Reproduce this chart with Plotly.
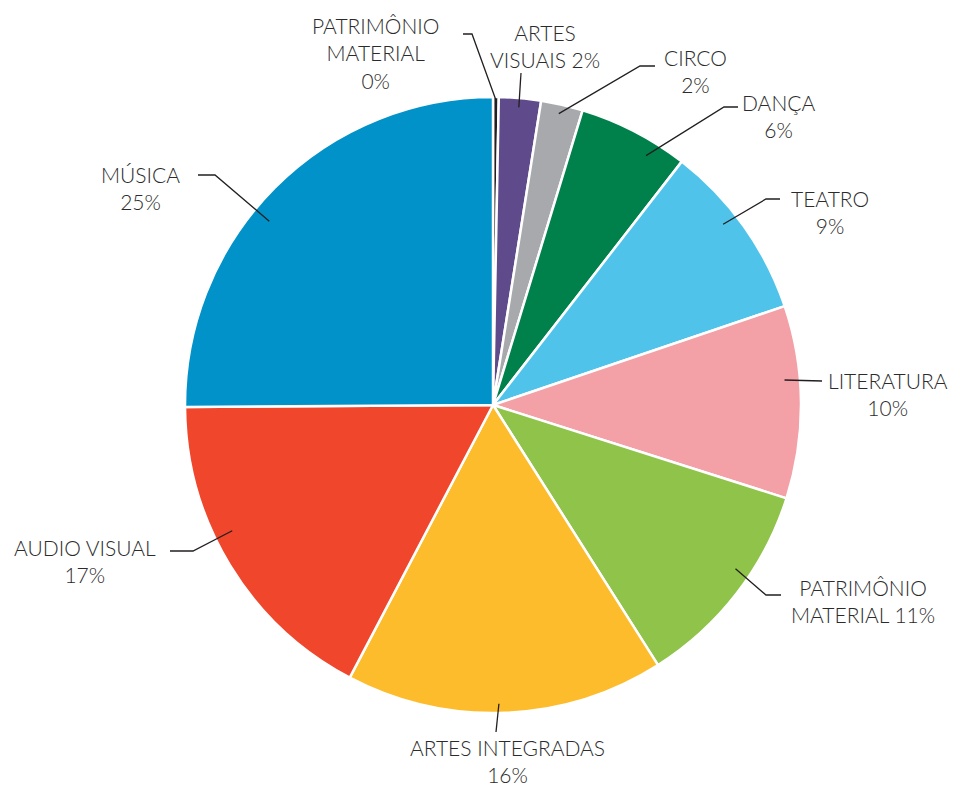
import math
import plotly.graph_objects as go

# data (clockwise from 12 o'clock)
labels = ["PATRIMÔNIO MATERIAL", "ARTES VISUAIS", "CIRCO", "DANÇA", "TEATRO",
          "LITERATURA", "PATRIMÔNIO MATERIAL ", "ARTES INTEGRADAS", "AUDIO VISUAL", "MÚSICA"]
values = [0.3, 2.2, 2.2, 5.8, 9.3, 10.1, 11.1, 16.7, 17.2, 25.1]
pct_text = ["0%", "2%", "2%", "6%", "9%", "10%", "11%", "16%", "17%", "25%"]
label_text = ["PATRIMÔNIO<br>MATERIAL<br>0%", "ARTES<br>VISUAIS 2%", "CIRCO<br>2%", "DANÇA<br>6%",
              "TEATRO<br>9%", "LITERATURA<br>10%", "PATRIMÔNIO<br>MATERIAL 11%",
              "ARTES INTEGRADAS<br>16%", "AUDIO VISUAL<br>17%", "MÚSICA<br>25%"]
colors = ["#231f20", "#5f4b8b", "#a7a9ac", "#00804a", "#4fc3ea",
          "#f3a0a6", "#8fc34a", "#fdbc2c", "#ef462c", "#0092c9"]

OFF = 8  # page body margin
W, H = 963 - OFF, 787 - OFF
L, R, T, B = 185 - OFF, 162, 97 - OFF, 74
side = W - L - R
cx, cy = L + side / 2, T + side / 2
rad = side / 2

# label layout in window pixels: elbow point, end of horizontal tick, text centre,
# start radius, where inside the slice the leader starts (0..1 of its angle)
label_pos = [
    ((472, 34), (463, 34), (375, 53), 0.99, 0.5),
    ((521, 73), (521, 73), (545, 46), 0.97, 0.49),
    ((640, 66), (655, 66), (695, 71), 0.97, 0.47),
    ((724, 107), (738, 107), (778, 116), 0.95, 0.70),
    ((766, 199), (780, 199), (830, 212), 0.95, 0.42),
    ((822, 381), (822, 381), (888, 394), 0.95, 0.38),
    ((766, 595), (781, 595), (863, 601), 0.95, 0.41),
    ((496, 732), (496, 732), (507, 761), 0.97, 0.52),
    ((193, 551), (170, 551), (85, 561), 0.94, 0.59),
    ((215, 175), (198, 175), (140, 188), 0.94, 0.44),
]


def to_paper(px, py):
    return (px - OFF - L) / side, (H - B - (py - OFF)) / side


fig = go.Figure(go.Pie(
    labels=labels, values=values, sort=False, direction="clockwise", rotation=0,
    marker=dict(colors=colors, line=dict(color="white", width=2.5)),
    textinfo="none", hoverinfo="skip", showlegend=False,
))

total = sum(values)
cum = 0
shapes, annotations = [], []
for v, txt, (elbow, tick, tpos, rf, frac) in zip(values, label_text, label_pos):
    ang = (cum + v * frac) / total * 2 * math.pi
    cum += v
    sx = cx + OFF + rf * rad * math.sin(ang)
    sy = cy + OFF - rf * rad * math.cos(ang)
    p0 = to_paper(sx, sy)
    p1 = to_paper(*elbow)
    p2 = to_paper(*tick)
    shapes.append(dict(type="path", xref="paper", yref="paper",
                       path=f"M {p0[0]},{p0[1]} L {p1[0]},{p1[1]} L {p2[0]},{p2[1]}",
                       line=dict(color="#231f20", width=1.3)))
    tx, ty = to_paper(*tpos)
    annotations.append(dict(text=txt, x=tx, y=ty, xref="paper", yref="paper",
                            showarrow=False, xanchor="center", yanchor="middle",
                            align="center",
                            font=dict(family="Lato", size=21, color="#2b2b2b", weight=300)))

fig.update_layout(
    width=W, height=H, margin=dict(l=L, r=R, t=T, b=B),
    paper_bgcolor="white", plot_bgcolor="white",
    shapes=shapes, annotations=annotations,
)
fig.write_html("out.html")
